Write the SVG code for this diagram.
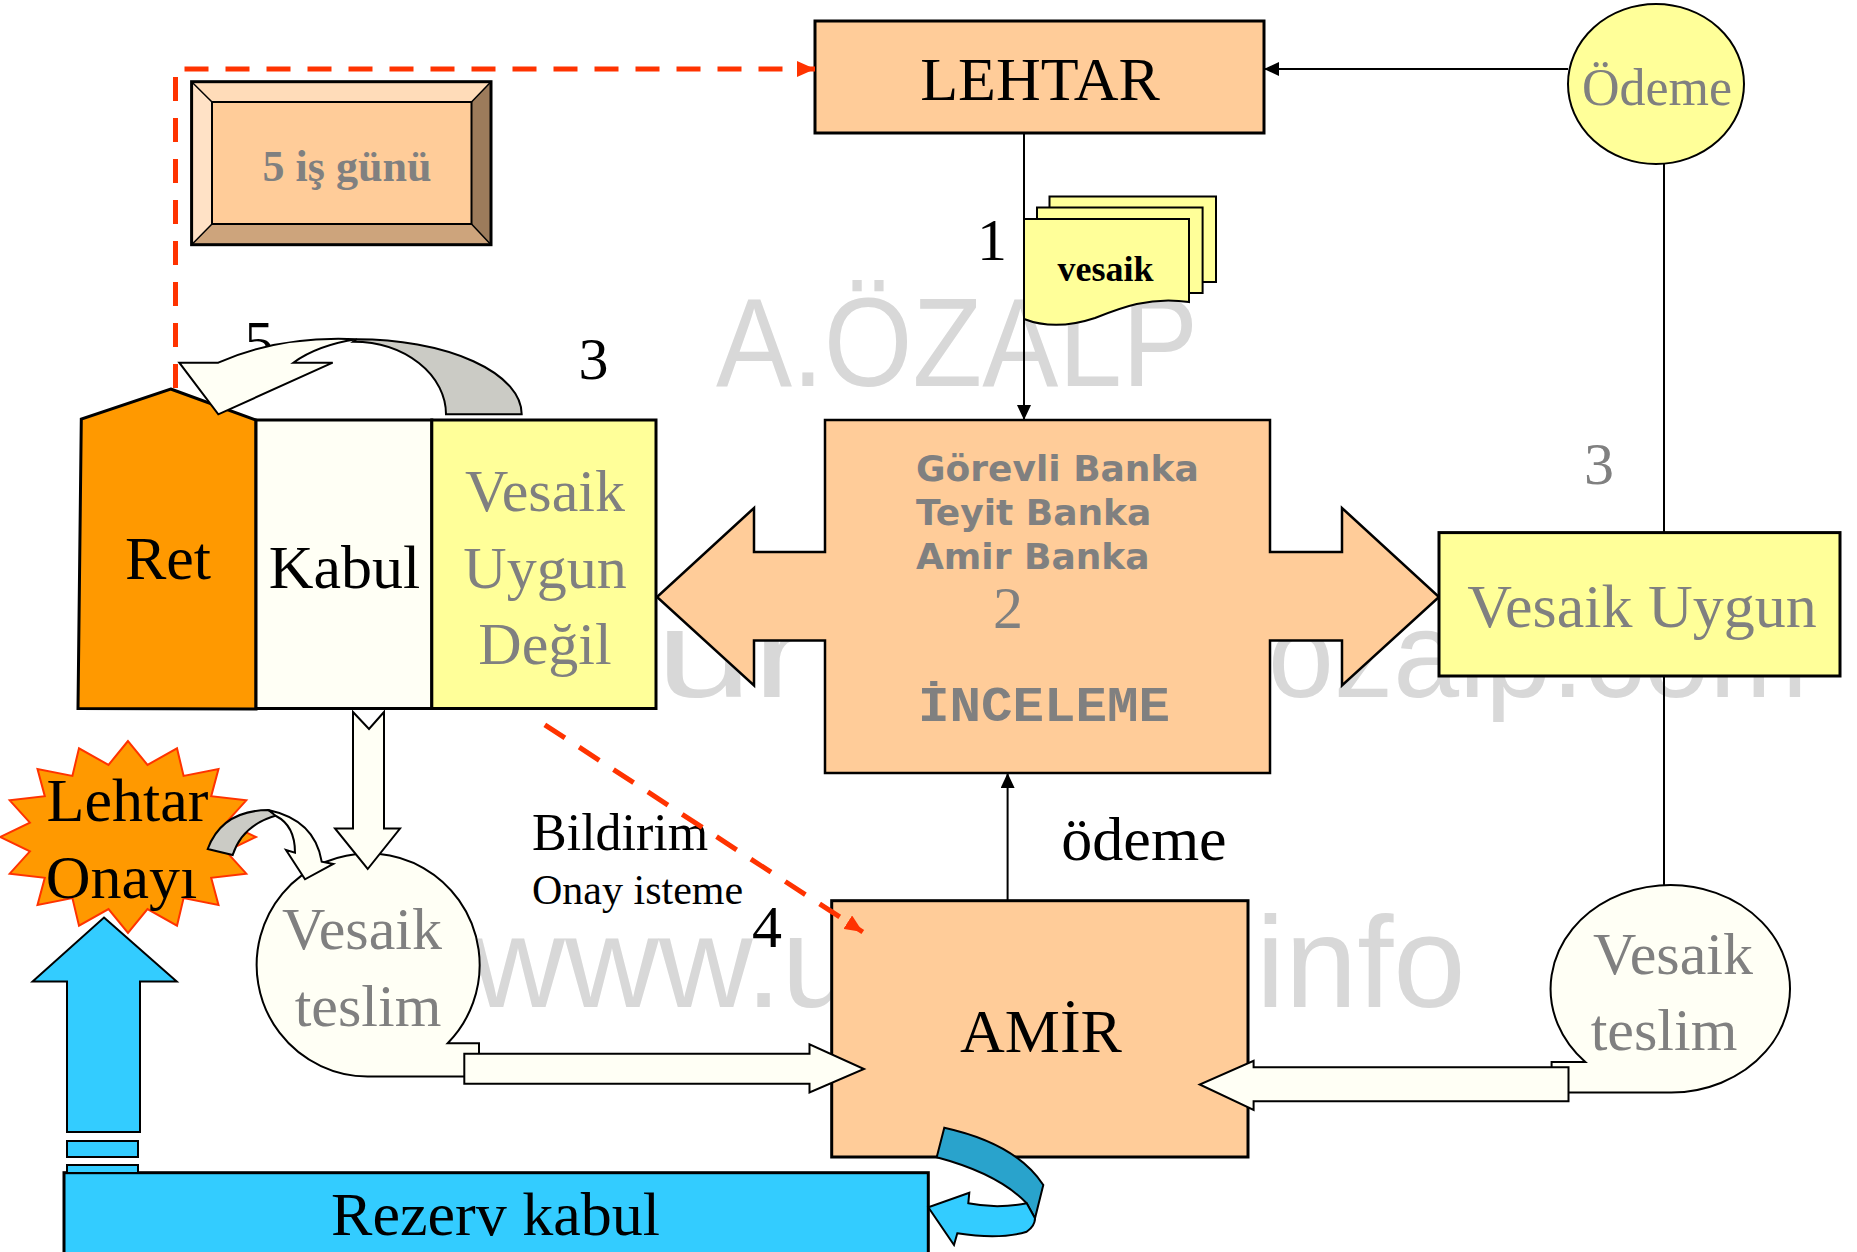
<svg xmlns="http://www.w3.org/2000/svg" width="1857" height="1252" viewBox="0 0 1857 1252">
<style>
.serif{font-family:"Liberation Serif","Times New Roman",serif}
.blk{fill:#000}
.gry{fill:#808080}
.box{stroke:#000;stroke-width:3}
.peach{fill:#FFCC99}
.yel{fill:#FFFF99}
.ivory{fill:#FFFFF5}
.ln{stroke:#000;stroke-width:2;fill:none}
.red{stroke:#FF3300;stroke-width:5;fill:none;stroke-dasharray:24 17}
.wm{font-family:"Liberation Sans",Arial,sans-serif;fill:#D8D8D8}
.sh{stroke:#000;stroke-width:2;stroke-linejoin:miter}
.f62{font-size:62px}
.f60{font-size:60px}
.bank{font-family:"DejaVu Sans",Verdana,sans-serif;font-weight:bold;font-size:36px;fill:#808080}
</style>
<defs>
<marker id="ab" markerUnits="userSpaceOnUse" markerWidth="16" markerHeight="14" refX="15" refY="7" orient="auto"><path d="M0,0 L15,7 L0,14 Z" fill="#000"/></marker>
<marker id="ar" markerUnits="userSpaceOnUse" markerWidth="19" markerHeight="16" refX="18" refY="8" orient="auto"><path d="M0,0 L18,8 L0,16 Z" fill="#FF3300"/></marker>
</defs>
<rect x="0" y="0" width="1857" height="1252" fill="#fff"/>

<g id="watermark">
<text class="wm" x="716" y="386" font-size="126" textLength="482" lengthAdjust="spacingAndGlyphs">A.ÖZALP</text>
<text class="wm" x="656" y="697" font-size="124" textLength="154" lengthAdjust="spacingAndGlyphs">ur</text>
<text class="wm" x="1268" y="697" font-size="122" textLength="540" lengthAdjust="spacingAndGlyphs">ozalp.com</text>
<text class="wm" x="471" y="1007" font-size="130">www.u</text>
<text class="wm" x="1256" y="1007" font-size="130">info</text>
</g>

<g id="is-gunu">
<path d="M191.6,81.7 H491 L471.5,102 H212 Z" fill="#FFDCB9"/>
<path d="M191.6,81.7 L212,102 V224 L191.6,244.7 Z" fill="#FFE2C6"/>
<path d="M491,81.7 V244.7 L471.5,224 V102 Z" fill="#9C7B5B"/>
<path d="M191.6,244.7 L212,224 H471.5 L491,244.7 Z" fill="#CDA47C"/>
<rect x="212" y="102" width="259.5" height="122" fill="#FFCC99" stroke="#000" stroke-width="2"/>
<path d="M191.6,81.7 L212,102 M491,81.7 L471.5,102 M491,244.7 L471.5,224 M191.6,244.7 L212,224" stroke="#000" stroke-width="1.5"/>
<rect x="191.6" y="81.7" width="299.4" height="163" fill="none" class="box"/>
<text class="serif gry" x="347" y="181" font-size="44" font-weight="bold" text-anchor="middle">5 iş günü</text>
</g>

<g id="lehtar">
<rect x="815" y="21" width="449" height="112" class="box peach"/>
<text class="serif blk f62" x="1040" y="100" text-anchor="middle">LEHTAR</text>
</g>

<g id="odeme-node">
<ellipse cx="1656" cy="84" rx="88" ry="80" fill="#FFFF99" stroke="#000" stroke-width="2"/>
<text class="serif gry" x="1657" y="105" font-size="52" text-anchor="middle">Ödeme</text>
</g>

<g id="vesaik-doc">
<rect x="1049.5" y="196.5" width="166.5" height="85.5" class="yel sh"/>
<rect x="1037" y="207.5" width="165.6" height="85.5" class="yel sh"/>
<path d="M1024,219 H1189 V302 C1150,296 1120,308 1095,318 C1065,328 1042,326 1024,319 Z" class="yel sh"/>
<text class="serif blk" x="1105.5" y="281" font-size="36" font-weight="bold" text-anchor="middle">vesaik</text>
</g>

<g id="inceleme">
<polygon points="825,420 1270,420 1270,552 1342,552 1342,508 1439,597 1342,685.5 1342,640.5 1270,640.5 1270,773 825,773 825,640.5 754,640.5 754,685.5 657,597 754,508 754,552 825,552" fill="#FFCC99" stroke="#000" stroke-width="2.5"/>
<text class="bank" x="916" y="481">Görevli Banka</text>
<text class="bank" x="916" y="525">Teyit Banka</text>
<text class="bank" x="916" y="569">Amir Banka</text>
<text class="serif gry f60" x="1008" y="628" text-anchor="middle">2</text>
<text x="918" y="721" font-family="'Liberation Mono','DejaVu Sans Mono',monospace" font-weight="bold" font-size="50" fill="#808080" textLength="252" lengthAdjust="spacingAndGlyphs">İNCELEME</text>
</g>

<g id="vesaik-uygun">
<rect x="1439" y="532.6" width="401" height="143.4" class="box yel"/>
<text class="serif gry f62" x="1642" y="627" text-anchor="middle">Vesaik Uygun</text>
</g>

<g id="ret-kabul">
<path d="M170.7,389 L256,420 V709 L78,708.5 L81.3,419 Z" fill="#FF9900" class="box"/>
<rect x="256" y="420" width="175.8" height="288.5" class="box ivory"/>
<rect x="431.8" y="420" width="224.2" height="288.5" class="box yel"/>
<text class="serif blk f62" x="168" y="579" text-anchor="middle">Ret</text>
<text class="serif blk f62" x="344.5" y="588" text-anchor="middle">Kabul</text>
<text class="serif gry f60" x="545" y="511" text-anchor="middle">Vesaik</text>
<text class="serif gry f60" x="545" y="588" text-anchor="middle">Uygun</text>
<text class="serif gry f60" x="545" y="663.5" text-anchor="middle">Değil</text>
</g>

<g id="amir">
<rect x="831.7" y="900.7" width="416.3" height="256.3" class="box peach"/>
<text class="serif blk f62" x="1041" y="1052" text-anchor="middle">AMİR</text>
</g>

<g id="teslim-right">
<path d="M1585.3,1061.9 A119.7,103.8 0 1 1 1671.3,1092.6 L1551.6,1092.6 L1551.6,1061.9 Z" class="ivory sh"/>
<text class="serif gry f60" x="1673" y="974" text-anchor="middle">Vesaik</text>
<text class="serif gry f60" x="1664" y="1050" text-anchor="middle">teslim</text>
</g>

<g id="teslim-left">
<path d="M447.7,1043.2 A111.5,111.6 0 1 0 367.6,1076.6 L479,1076.6 L479,1043.2 Z" class="ivory sh"/>
<text class="serif gry f60" x="362" y="949" text-anchor="middle">Vesaik</text>
<text class="serif gry f60" x="368" y="1026" text-anchor="middle">teslim</text>
</g>

<g id="lehtar-onayi">
<polygon points="128,741 108.5,764.9 79,748.3 72.4,775.9 37.5,769.1 44.8,796.2 9.7,800.3 29.9,822.7 0,837 29.9,851.3 9.7,873.7 44.8,877.8 37.5,904.9 72.4,898.1 79,925.7 108.5,909.1 128,933 147.5,909.1 177,925.7 183.6,898.1 218.5,904.9 211.2,877.8 246.3,873.7 226.1,851.3 256,837 226.1,822.7 246.3,800.3 211.2,796.2 218.5,769.1 183.6,775.9 177,748.3 147.5,764.9" fill="#FF9900" stroke="#FF3300" stroke-width="2"/>
<text class="serif blk f62" x="127.5" y="821" text-anchor="middle">Lehtar</text>
<text class="serif blk f62" x="121.6" y="898" text-anchor="middle">Onayı</text>
</g>

<g id="rezerv">
<rect x="64" y="1172.7" width="864.3" height="100" fill="#33CCFF" class="box"/>
<text class="serif blk f62" x="495.5" y="1235" text-anchor="middle">Rezerv kabul</text>
</g>

<g id="labels">
<text class="serif blk f60" x="992" y="260" text-anchor="middle">1</text>
<text class="serif gry f60" x="1599" y="484" text-anchor="middle">3</text>
<text class="serif blk f60" x="593.5" y="379" text-anchor="middle">3</text>
<text class="serif blk" x="259" y="361" font-size="58" text-anchor="middle">5</text>
<text class="serif blk f60" x="767" y="947" text-anchor="middle">4</text>
<text class="serif blk f62" x="1144" y="860" text-anchor="middle">ödeme</text>
<text class="serif blk" x="532" y="850" font-size="52">Bildirim</text>
<text class="serif blk" x="532" y="903.5" font-size="42">Onay isteme</text>
</g>

<g id="connectors">
<path class="ln" d="M1024,133 V420" marker-end="url(#ab)"/>
<path class="ln" d="M1007.6,900.7 V773" marker-end="url(#ab)"/>
<path class="ln" d="M1568,69 H1264" marker-end="url(#ab)"/>
<path class="ln" d="M1664,164 V532.6 M1664,676 V885"/>
<path class="red" d="M175.5,388 V69 H815" marker-end="url(#ar)"/>
<path class="red" d="M544.8,724.8 L862.8,932" marker-end="url(#ar)"/>
<polygon points="353,712 369,729 384,712 384,828.5 400,828.5 367.7,869 335,828.5 353,828.5" class="ivory sh"/>
<polygon points="464.3,1053.8 809.5,1053.8 809.5,1044.3 864,1069 809.5,1092.5 809.5,1083.7 464.3,1083.7" class="ivory sh"/>
<polygon points="1568.5,1067.2 1253.6,1067.2 1253.6,1060.8 1199.7,1084.5 1253.6,1110 1253.6,1101.3 1568.5,1101.3" class="ivory sh"/>
<polygon points="104,917.6 176.7,981.6 140,981.6 140,1132 67,1132 67,981.6 32.6,981.6" fill="#33CCFF" class="sh"/>
<rect x="67" y="1141" width="71" height="16" fill="#33CCFF" class="sh"/>
<rect x="67" y="1165" width="71" height="8" fill="#33CCFF" class="sh"/>
<path d="M521.7,414.3 A165,75 0 0 0 356.7,339.3 L353.3,341.7 A92.7,72.6 0 0 1 446,414.3 Z" fill="#CBCBC5" class="sh"/>
<path d="M356.7,339.3 Q279,335.6 218.3,362.7 L179.3,362.7 L218.3,414.3 L332.7,362.7 L293.3,362.7 Q318,345 356.7,339.3 Z" class="ivory sh"/>
<path d="M207.7,849 Q222,810.5 268.3,810 L278,815 Q242.2,824.5 232.7,855 Z" fill="#CBCBC5" class="sh"/>
<path d="M268.3,810 Q315,820 321.7,861.7 L333.3,864 L305,879.3 L286,850 L295,852.7 Q295,825.6 276,816 Z" class="ivory sh"/>
<path d="M944.3,1127.7 Q1016.2,1143.6 1043.3,1185 L1035,1218.3 L1026.7,1203.3 Q998.3,1173.7 936.7,1157.3 Z" fill="#29A3CC" class="sh"/>
<path d="M1035,1218.3 L1026.7,1203.3 Q997,1209 968.3,1203.3 L969.3,1192.7 L928.3,1207.3 L954,1245 L957.3,1233.3 Q1000,1240 1026.7,1231.7 Q1035,1226 1035,1218.3 Z" fill="#33CCFF" class="sh"/>
</g>
</svg>
